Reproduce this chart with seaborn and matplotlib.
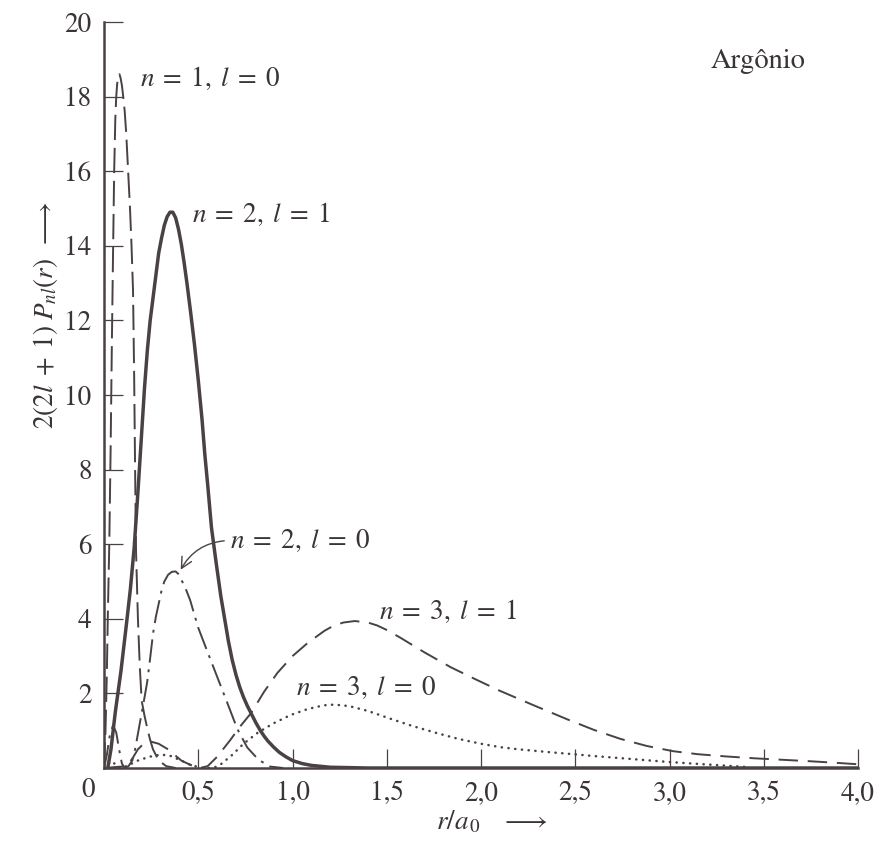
import numpy as np
import pandas as pd
import matplotlib
matplotlib.use("Agg")
import matplotlib.pyplot as plt
import seaborn as sns

# ---------------- data ----------------
x_10 = [0.0, 0.008, 0.015, 0.02, 0.028, 0.035, 0.042, 0.048, 0.054, 0.06, 0.065, 0.07,
        0.076, 0.082, 0.088, 0.095, 0.102, 0.11, 0.118, 0.125, 0.138, 0.146, 0.154,
        0.16, 0.165, 0.17, 0.18, 0.19, 0.2, 0.215, 0.228, 0.245, 0.26, 0.29, 0.33, 0.38]
y_10 = [0.0, 1.0, 2.5, 4.0, 6.0, 8.5, 11.5, 13.8, 16.0, 17.4, 18.0, 18.35,
        18.55, 18.6, 18.5, 18.3, 18.0, 17.6, 17.0, 16.3, 15.0, 14.0, 12.8,
        10.5, 8.0, 5.8, 4.0, 2.7, 1.8, 1.4, 1.1, 0.75, 0.5, 0.2, 0.05, 0.0]

x_21 = [0.02, 0.037, 0.06, 0.09, 0.12, 0.14, 0.16, 0.18, 0.20, 0.215, 0.23, 0.245,
        0.26, 0.275, 0.29, 0.305, 0.32, 0.335, 0.35, 0.365, 0.38, 0.395, 0.41,
        0.425, 0.44, 0.46, 0.48, 0.50, 0.52, 0.535, 0.55, 0.57, 0.595, 0.62, 0.64,
        0.66, 0.68, 0.70, 0.72, 0.74, 0.76, 0.78, 0.805, 0.83, 0.85, 0.87, 0.9,
        0.93, 0.965, 1.0, 1.05, 1.1, 1.2, 1.4, 4.0]
y_21 = [0.0, 0.5, 1.5, 2.6, 3.9, 4.8, 5.9, 7.4, 9.0, 10.2, 11.2, 12.0,
        12.6, 13.2, 13.8, 14.2, 14.55, 14.78, 14.9, 14.9, 14.75, 14.45, 14.05,
        13.55, 13.0, 12.2, 11.35, 10.4, 9.35, 8.4, 7.6, 6.45, 5.5, 4.6, 4.0,
        3.4, 2.9, 2.5, 2.17, 1.9, 1.67, 1.47, 1.22, 1.0, 0.85, 0.72, 0.56,
        0.42, 0.3, 0.2, 0.12, 0.07, 0.02, 0.0, 0.0]

x_20 = [0.0, 0.015, 0.03, 0.048, 0.065, 0.08, 0.095, 0.11, 0.13, 0.15, 0.165, 0.19,
        0.21, 0.229, 0.245, 0.26, 0.275, 0.29, 0.305, 0.32, 0.34, 0.36, 0.38, 0.395,
        0.41, 0.43, 0.457, 0.5, 0.55, 0.6, 0.65, 0.707, 0.76, 0.82, 0.88, 0.95]
y_20 = [0.0, 0.35, 0.85, 1.15, 0.95, 0.5, 0.12, 0.0, 0.05, 0.2, 0.5, 1.2,
        1.75, 2.3, 2.95, 3.6, 4.05, 4.4, 4.75, 5.0, 5.18, 5.26, 5.27, 5.2,
        5.05, 4.85, 4.5, 3.76, 3.1, 2.45, 1.8, 1.05, 0.55, 0.22, 0.04, 0.0]

x_31 = [0.0, 0.12, 0.15, 0.18, 0.21, 0.24, 0.29, 0.34, 0.41, 0.46, 0.51, 0.55,
        0.6, 0.67, 0.72, 0.78, 0.85, 0.92, 1.0, 1.08, 1.17, 1.22, 1.27, 1.33, 1.4,
        1.45, 1.5, 1.57, 1.7, 1.84, 1.97, 2.1, 2.28, 2.46, 2.6, 2.74, 2.88, 3.02,
        3.15, 3.3, 3.45, 3.6, 3.75, 3.88, 4.0]
y_31 = [0.0, 0.05, 0.25, 0.5, 0.65, 0.72, 0.65, 0.5, 0.2, 0.08, 0.0, 0.05,
        0.3, 0.75, 1.1, 1.47, 2.05, 2.55, 3.0, 3.35, 3.68, 3.82, 3.9, 3.94, 3.9,
        3.82, 3.7, 3.5, 3.1, 2.7, 2.38, 2.07, 1.68, 1.3, 1.02, 0.78, 0.59, 0.45,
        0.37, 0.31, 0.26, 0.22, 0.18, 0.14, 0.1]

x_30 = [0.0, 0.02, 0.04, 0.06, 0.08, 0.12, 0.18, 0.24, 0.3, 0.35, 0.4, 0.46,
        0.52, 0.58, 0.62, 0.68, 0.74, 0.814, 0.9, 0.99, 1.08, 1.165, 1.22, 1.3,
        1.4, 1.52, 1.64, 1.77, 1.88, 2.0, 2.1, 2.2, 2.35, 2.49, 2.6, 2.75, 2.9,
        3.0, 3.15, 3.31, 3.4]
y_30 = [0.0, 0.1, 0.18, 0.1, 0.0, 0.05, 0.2, 0.3, 0.36, 0.33, 0.22, 0.08,
        0.0, 0.0, 0.1, 0.35, 0.65, 0.94, 1.2, 1.42, 1.58, 1.68, 1.7, 1.66,
        1.53, 1.32, 1.12, 0.93, 0.78, 0.65, 0.56, 0.5, 0.43, 0.37, 0.32, 0.26, 0.2,
        0.16, 0.11, 0.06, 0.03]

x_ticks = [0.0, 0.5, 1.0, 1.5, 2.0, 2.5, 3.0, 3.5, 4.0]
x_ticklabels = ["", "0,5", "1,0", "1,5", "2,0", "2,5", "3,0", "3,5", "4,0"]
y_ticks = [0, 2, 4, 6, 8, 10, 12, 14, 16, 18, 20]
y_ticklabels = ["", "2", "4", "6", "8", "10", "12", "14", "16", "18", "20"]

labels = {
    "10": r"$n\;=\;1,\;l\;=\;0$",
    "21": r"$n\;=\;2,\;l\;=\;1$",
    "20": r"$n\;=\;2,\;l\;=\;0$",
    "31": r"$n\;=\;3,\;l\;=\;1$",
    "30": r"$n\;=\;3,\;l\;=\;0$",
}

# ---------------- style ----------------
sns.set_theme(style="white")
plt.rcParams["font.family"] = ["STIXGeneral", "DejaVu Serif"]
plt.rcParams["mathtext.fontset"] = "stix"

INK = "#4a4242"
TXT = "#3a3434"

fig = plt.figure(figsize=(8.96, 8.42), dpi=100)
fig.patch.set_facecolor("white")
ax = fig.add_axes([104 / 896, 74 / 842, 754 / 896, 746 / 842])
ax.set_facecolor("white")

def draw(x, y, **kw):
    df = pd.DataFrame({"x": x, "y": y})
    sns.lineplot(data=df, x="x", y="y", ax=ax, color=INK, estimator=None,
                 sort=False, legend=False, **kw)

draw(x_10, y_10, lw=1.4, linestyle=(0, (13, 4)))
draw(x_21, y_21, lw=2.5, linestyle="-")
draw(x_20, y_20, lw=1.4, linestyle=(0, (12, 3.5, 1.5, 3.5)))
draw(x_31, y_31, lw=1.4, linestyle=(0, (10, 5)))
draw(x_30, y_30, lw=1.8, linestyle=(0, (0.1, 2.6)), dash_capstyle="round")

ax.set_xlim(0, 4.0)
ax.set_ylim(0, 20)
ax.set_xticks(x_ticks)
ax.set_xticklabels(x_ticklabels)
ax.set_yticks(y_ticks)
ax.set_yticklabels(y_ticklabels)
ax.set_xlabel("")
ax.set_ylabel("")
ax.grid(False)

for s in ["top", "right"]:
    ax.spines[s].set_visible(False)
for s in ["left", "bottom"]:
    ax.spines[s].set_color(INK)
    ax.spines[s].set_linewidth(1.8)

ax.tick_params(axis="both", which="major", bottom=True, left=True, top=False,
               right=False, direction="in", length=14, width=0.9, color=INK,
               labelsize=19.5, labelcolor=TXT, pad=9)

fs = 19.5
ax.text(0.19, 18.5, labels["10"], fontsize=fs, color=TXT, ha="left", va="center")
ax.text(0.465, 14.85, labels["21"], fontsize=fs, color=TXT, ha="left", va="center")
ax.annotate(labels["20"], xy=(0.40, 5.25), xytext=(0.67, 6.1), fontsize=fs,
            color=TXT, ha="left", va="center",
            arrowprops=dict(arrowstyle="->", color=INK, lw=1.0,
                            connectionstyle="arc3,rad=0.3", relpos=(0.0, 0.5),
                            shrinkA=2, shrinkB=2))
ax.text(1.46, 4.2, labels["31"], fontsize=fs, color=TXT, ha="left", va="center")
ax.text(1.02, 2.15, labels["30"], fontsize=fs, color=TXT, ha="left", va="center")
ax.text(3.22, 18.95, "Argônio", fontsize=20.5, color=TXT, ha="left", va="center")

fig.text(88 / 896, 1 - 790 / 842, "0", fontsize=19.5, color=TXT, ha="center", va="center")
fig.text(45 / 896, 1 - 315 / 842, r"$2(2l\;+\;1)\;P_{nl}(r)\;\;\longrightarrow$",
         fontsize=19.5, color=TXT, rotation=90, ha="center", va="center")
fig.text(492 / 896, 1 - 822 / 842, r"$r/a_{\,0}\quad\longrightarrow$",
         fontsize=19.5, color=TXT, ha="center", va="center")

fig.savefig("out.png", dpi=100, facecolor="white")
